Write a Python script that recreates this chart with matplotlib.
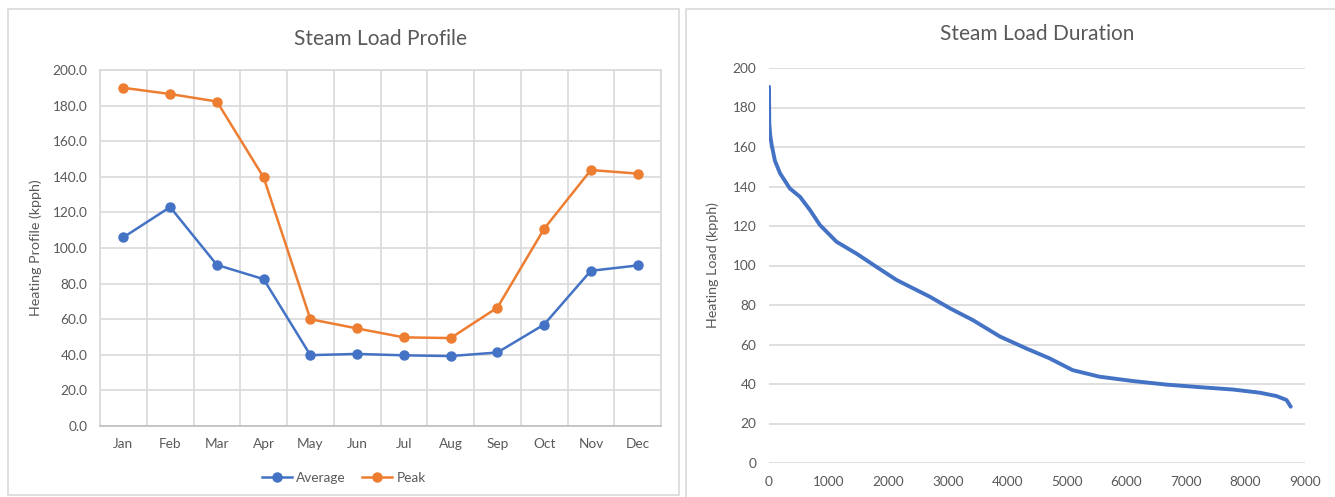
import matplotlib.pyplot as plt
from matplotlib.patches import Rectangle

# Monthly steam load profile (kpph)
months = ['Jan', 'Feb', 'Mar', 'Apr', 'May', 'Jun', 'Jul', 'Aug', 'Sep', 'Oct', 'Nov', 'Dec']
average = [106, 123, 90.5, 82.5, 39.8, 40.5, 39.7, 39.3, 41.3, 57, 87.2, 90.2]
peak = [190, 186.5, 182.3, 139.7, 60, 54.8, 49.8, 49.4, 66.5, 110.8, 143.8, 141.8]

# Load duration curve (hours, kpph)
hours = [0, 5, 20, 45, 100, 185, 350, 520, 690, 855, 1135, 1470, 1800, 2140,
         2700, 3040, 3420, 3880, 4320, 4710, 5100, 5550, 6110, 6670, 7230,
         7790, 8240, 8520, 8690, 8740, 8760]
load = [190.5, 172, 166, 161, 153, 146.7, 139, 134.8, 128, 120.5, 112, 106,
        99.4, 92.7, 84.2, 78.3, 72.4, 64, 58, 53, 47, 43.7, 41.5, 39.7, 38.4,
        37.2, 35.6, 33.9, 31.9, 29.5, 28.5]

plt.rcParams['font.family'] = ['Lato', 'DejaVu Sans']
txt = '#595959'
grid = '#d9d9d9'
blue = '#4472C4'
orange = '#ED7D31'

fig = plt.figure(figsize=(13.35, 4.97), dpi=100)

# panel frames
fig.patches.append(Rectangle((8 / 1335, 2 / 497), 671 / 1335, 486 / 497, transform=fig.transFigure,
                             fill=False, edgecolor=grid, lw=1.2))
fig.patches.append(Rectangle((686 / 1335, -5 / 497), 700 / 1335, 493 / 497, transform=fig.transFigure,
                             fill=False, edgecolor=grid, lw=1.2))

# left: profile
ax0 = fig.add_axes([100 / 1335, 1 - 426 / 497, 561 / 1335, 356 / 497])
x = range(len(months))
ax0.plot(x, average, color=blue, lw=1.8, marker='o', ms=6.5, label='Average', zorder=3)
ax0.plot(x, peak, color=orange, lw=1.8, marker='o', ms=6.5, label='Peak', zorder=3)
ax0.set_xlim(-0.5, 11.5)
ax0.set_ylim(0, 200)
ax0.set_yticks(range(0, 201, 20))
ax0.set_yticklabels([f'{v:.1f}' for v in range(0, 201, 20)])
ax0.set_xticks(list(x))
ax0.set_xticklabels(months)
ax0.set_xticks([i - 0.5 for i in range(13)], minor=True)
ax0.grid(True, axis='y', color=grid, lw=1.2)
ax0.grid(True, axis='x', which='minor', color=grid, lw=1.2)
ax0.tick_params(which='both', length=0, colors=txt, labelsize=9.8, pad=9)
for s in ax0.spines.values():
    s.set_color(grid)
    s.set_linewidth(1.2)
ax0.spines['bottom'].set_color('#bfbfbf')
ax0.set_ylabel('Heating Profile (kpph)', color=txt, fontsize=10.3, labelpad=8)
ax0.set_title('Steam Load Profile', color=txt, fontsize=15, pad=18)
ax0.legend(loc='upper center', bbox_to_anchor=(0.435, -0.095), ncol=2, frameon=False,
           fontsize=9.8, labelcolor=txt, handlelength=2.2, columnspacing=1.2, handletextpad=0.3)

# right: duration
ax1 = fig.add_axes([769 / 1335, 1 - 463 / 497, 536 / 1335, 395 / 497])
ax1.plot(hours, load, color=blue, lw=2.8, solid_capstyle='round')
ax1.set_xlim(0, 9000)
ax1.set_ylim(0, 200)
ax1.set_xticks(range(0, 9001, 1000))
ax1.set_yticks(range(0, 201, 20))
ax1.grid(True, axis='y', color=grid, lw=1.2)
ax1.tick_params(length=0, colors=txt, labelsize=9.8, pad=9)
for s in ax1.spines.values():
    s.set_visible(False)
ax1.set_ylabel('Heating Load (kpph)', color=txt, fontsize=10.3, labelpad=10)
ax1.set_title('Steam Load Duration', color=txt, fontsize=15, pad=20)

fig.savefig('out.png', dpi=100, facecolor='white')
